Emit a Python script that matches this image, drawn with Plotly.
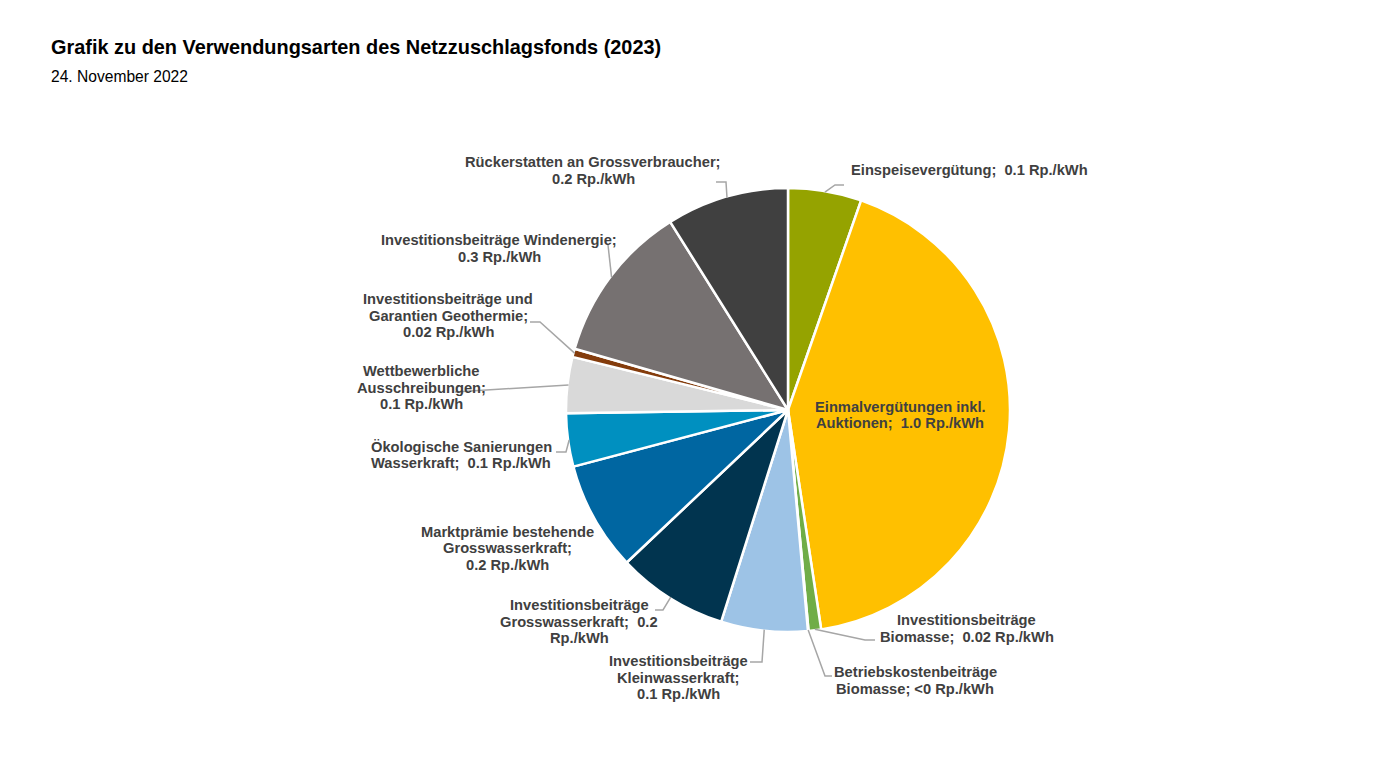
import math
import numpy as np
import plotly.graph_objects as go

# ---------------- data ----------------
categories = [
    "Einspeisevergütung",
    "Einmalvergütungen inkl. Auktionen",
    "Investitionsbeiträge Biomasse",
    "Betriebskostenbeiträge Biomasse",
    "Investitionsbeiträge Kleinwasserkraft",
    "Investitionsbeiträge Grosswasserkraft",
    "Marktprämie bestehende Grosswasserkraft",
    "Ökologische Sanierungen Wasserkraft",
    "Wettbewerbliche Ausschreibungen",
    "Investitionsbeiträge und Garantien Geothermie",
    "Investitionsbeiträge Windenergie",
    "Rückerstatten an Grossverbraucher",
]
values = [0.123, 0.973, 0.021, 0.001, 0.145, 0.186, 0.183, 0.089, 0.094, 0.014, 0.268, 0.205]
label_lines = [
    ["Einspeisevergütung;  0.1 Rp./kWh"],
    ["Einmalvergütungen inkl.", "Auktionen;  1.0 Rp./kWh"],
    ["Investitionsbeiträge", "Biomasse;  0.02 Rp./kWh"],
    ["Betriebskostenbeiträge", "Biomasse; <0 Rp./kWh"],
    ["Investitionsbeiträge", "Kleinwasserkraft;", "0.1 Rp./kWh"],
    ["Investitionsbeiträge", "Grosswasserkraft;  0.2", "Rp./kWh"],
    ["Marktprämie bestehende", "Grosswasserkraft;", "0.2 Rp./kWh"],
    ["Ökologische Sanierungen", "Wasserkraft;  0.1 Rp./kWh"],
    ["Wettbewerbliche", "Ausschreibungen;", "0.1 Rp./kWh"],
    ["Investitionsbeiträge und", "Garantien Geothermie;", "0.02 Rp./kWh"],
    ["Investitionsbeiträge Windenergie;", "0.3 Rp./kWh"],
    ["Rückerstatten an Grossverbraucher;", "0.2 Rp./kWh"],
]
colors = ["#95A300", "#FFC000", "#70AD47", "#A9D18E", "#9DC3E6", "#01344F",
          "#0066A1", "#0090C0", "#D9D9D9", "#843C0C", "#767171", "#404040"]
title_text = "Grafik zu den Verwendungsarten des Netzzuschlagsfonds (2023)"
subtitle_text = "24. November 2022"

# ---------------- layout constants ----------------
OFF = 8                      # page body margin in the browser
W, H = 1374 - OFF, 773 - OFF  # figure size so that it fits the window
CX, CY, R = 788, 410, 222    # pie centre / radius in screen pixels

def px(x):
    return (x - OFF) / W

def py(y):
    return 1 - (y - OFF) / H

# label placement: (centre x, first line y, line step) in screen pixels
label_pos = [
    (969, 170, 16.5),
    (900, 407, 16.5),
    (967, 620, 16.5),
    (915, 672, 16.5),
    (678, 661, 16.6),
    (579, 605, 16.6),
    (507, 532, 16.3),
    (461, 447, 16.3),
    (421, 371, 16.6),
    (448, 299, 16.6),
    (499, 240, 16.8),
    (593, 162, 16.6),
]
# leader line bend / end points in screen pixels (None = no leader line)
leader_pts = [
    [(835, 185), (844, 185)],
    None,
    [(865, 640), (875, 640)],
    [(825, 676), (832, 676)],
    [(762, 662), (750, 662)],
    [(663, 610), (655, 610)],
    None,
    [(566, 452), (556, 452)],
    [(455, 392)],
    [(540, 322), (530, 322)],
    [(608, 245)],
    [(726, 182), (716, 182)],
]

fig = go.Figure()
fig.add_trace(go.Pie(
    labels=categories,
    values=values,
    sort=False,
    direction="clockwise",
    rotation=0,
    marker=dict(colors=colors, line=dict(color="#FFFFFF", width=2.5)),
    textinfo="none",
    hoverinfo="label+value",
    showlegend=False,
    domain=dict(x=[px(CX - R), px(CX + R)], y=[py(CY + R), py(CY - R)]),
))

annotations = []
shapes = []
total = float(np.sum(values))
cum = np.cumsum(values)
for i, lines in enumerate(label_lines):
    lx, ly, step = label_pos[i]
    for j, t in enumerate(lines):
        annotations.append(dict(
            x=px(lx), y=py(ly + j * step), xref="paper", yref="paper",
            text="<b>" + t + "</b>", showarrow=False,
            xanchor="center", yanchor="middle",
            font=dict(family="Liberation Sans, Arial", size=14.7, color="#404040"),
        ))
    if leader_pts[i] is not None:
        frac = (cum[i] - values[i] / 2) / total
        th = 2 * math.pi * frac
        ax = CX + R * 0.995 * math.sin(th)
        ay = CY - R * 0.995 * math.cos(th)
        pts = [(ax, ay)] + leader_pts[i]
        path = "M " + " L ".join(f"{px(x):.5f},{py(y):.5f}" for x, y in pts)
        shapes.append(dict(type="path", path=path, xref="paper", yref="paper",
                           line=dict(color="#A6A6A6", width=1.5)))

annotations.append(dict(
    x=px(49), y=py(47), xref="paper", yref="paper", text="<b>" + title_text + "</b>",
    showarrow=False, xanchor="left", yanchor="middle",
    font=dict(family="Liberation Sans, Arial", size=19.9, color="#000000"),
))
annotations.append(dict(
    x=px(49), y=py(76), xref="paper", yref="paper", text=subtitle_text,
    showarrow=False, xanchor="left", yanchor="middle",
    font=dict(family="Liberation Sans, Arial", size=15.6, color="#000000"),
))

fig.update_layout(
    width=W, height=H,
    margin=dict(l=0, r=0, t=0, b=0),
    paper_bgcolor="#FFFFFF",
    plot_bgcolor="#FFFFFF",
    annotations=annotations,
    shapes=shapes,
)
fig.write_html("out.html")
